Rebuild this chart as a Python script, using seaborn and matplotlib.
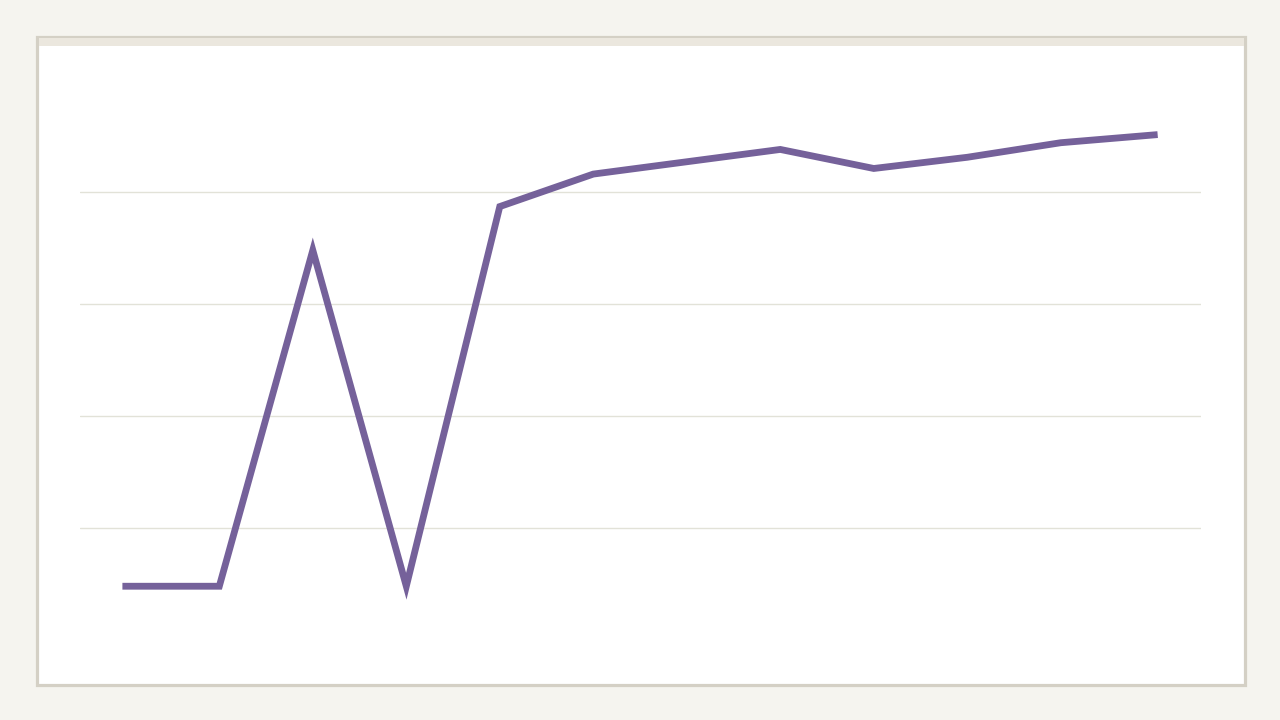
import numpy as np
import pandas as pd
import seaborn as sns
import matplotlib.pyplot as plt
from matplotlib.patches import Rectangle

# values (no labels are shown on the chart)
periods = list(range(12))
values = [0.48, 0.48, 3.48, 0.48, 3.87, 4.16, 4.27, 4.38, 4.21, 4.31, 4.44, 4.51]
grid_ticks = [1, 2, 3, 4]

line_color = "#75619a"
page_bg = "#f5f4ef"
frame_color = "#d4d0c5"
strip_color = "#ebe7de"
grid_color = "#e2e2d8"

df = pd.DataFrame({"period": periods, "value": values})

sns.set_theme(style="white")
plt.rcParams["font.family"] = ["DejaVu Sans"]

fig = plt.figure(figsize=(12.8, 7.2), dpi=100, facecolor=page_bg)

# white card with a thin border and a pale strip along the top
W, H = 1280, 720
card = Rectangle((36.5 / W, 1 - 684.5 / H), 1208 / W, 648 / H,
                 transform=fig.transFigure, facecolor="white",
                 edgecolor=frame_color, linewidth=2.3, zorder=-2)
fig.patches.append(card)
strip = Rectangle((38.5 / W, 1 - 46 / H), 1205 / W, 8 / H,
                  transform=fig.transFigure, facecolor=strip_color,
                  edgecolor="none", zorder=-1)
fig.patches.append(strip)

ax = fig.add_axes([80 / W, 1 - 640 / H, 1121 / W, 560 / H])
ax.set_facecolor("none")

sns.lineplot(data=df, x="period", y="value", ax=ax, color=line_color,
             linewidth=4.9, solid_capstyle="projecting", solid_joinstyle="miter")

ax.set_xlim(-0.49, 11.5)
ax.set_ylim(0, 5)
ax.set_yticks(grid_ticks)
ax.set_xticks([])
ax.yaxis.grid(True, color=grid_color, linewidth=1)
ax.set_axisbelow(True)
ax.tick_params(left=False, labelleft=False, bottom=False, labelbottom=False)
ax.set_xlabel("")
ax.set_ylabel("")
for s in ax.spines.values():
    s.set_visible(False)

fig.savefig("out.png", dpi=100, facecolor=page_bg)
